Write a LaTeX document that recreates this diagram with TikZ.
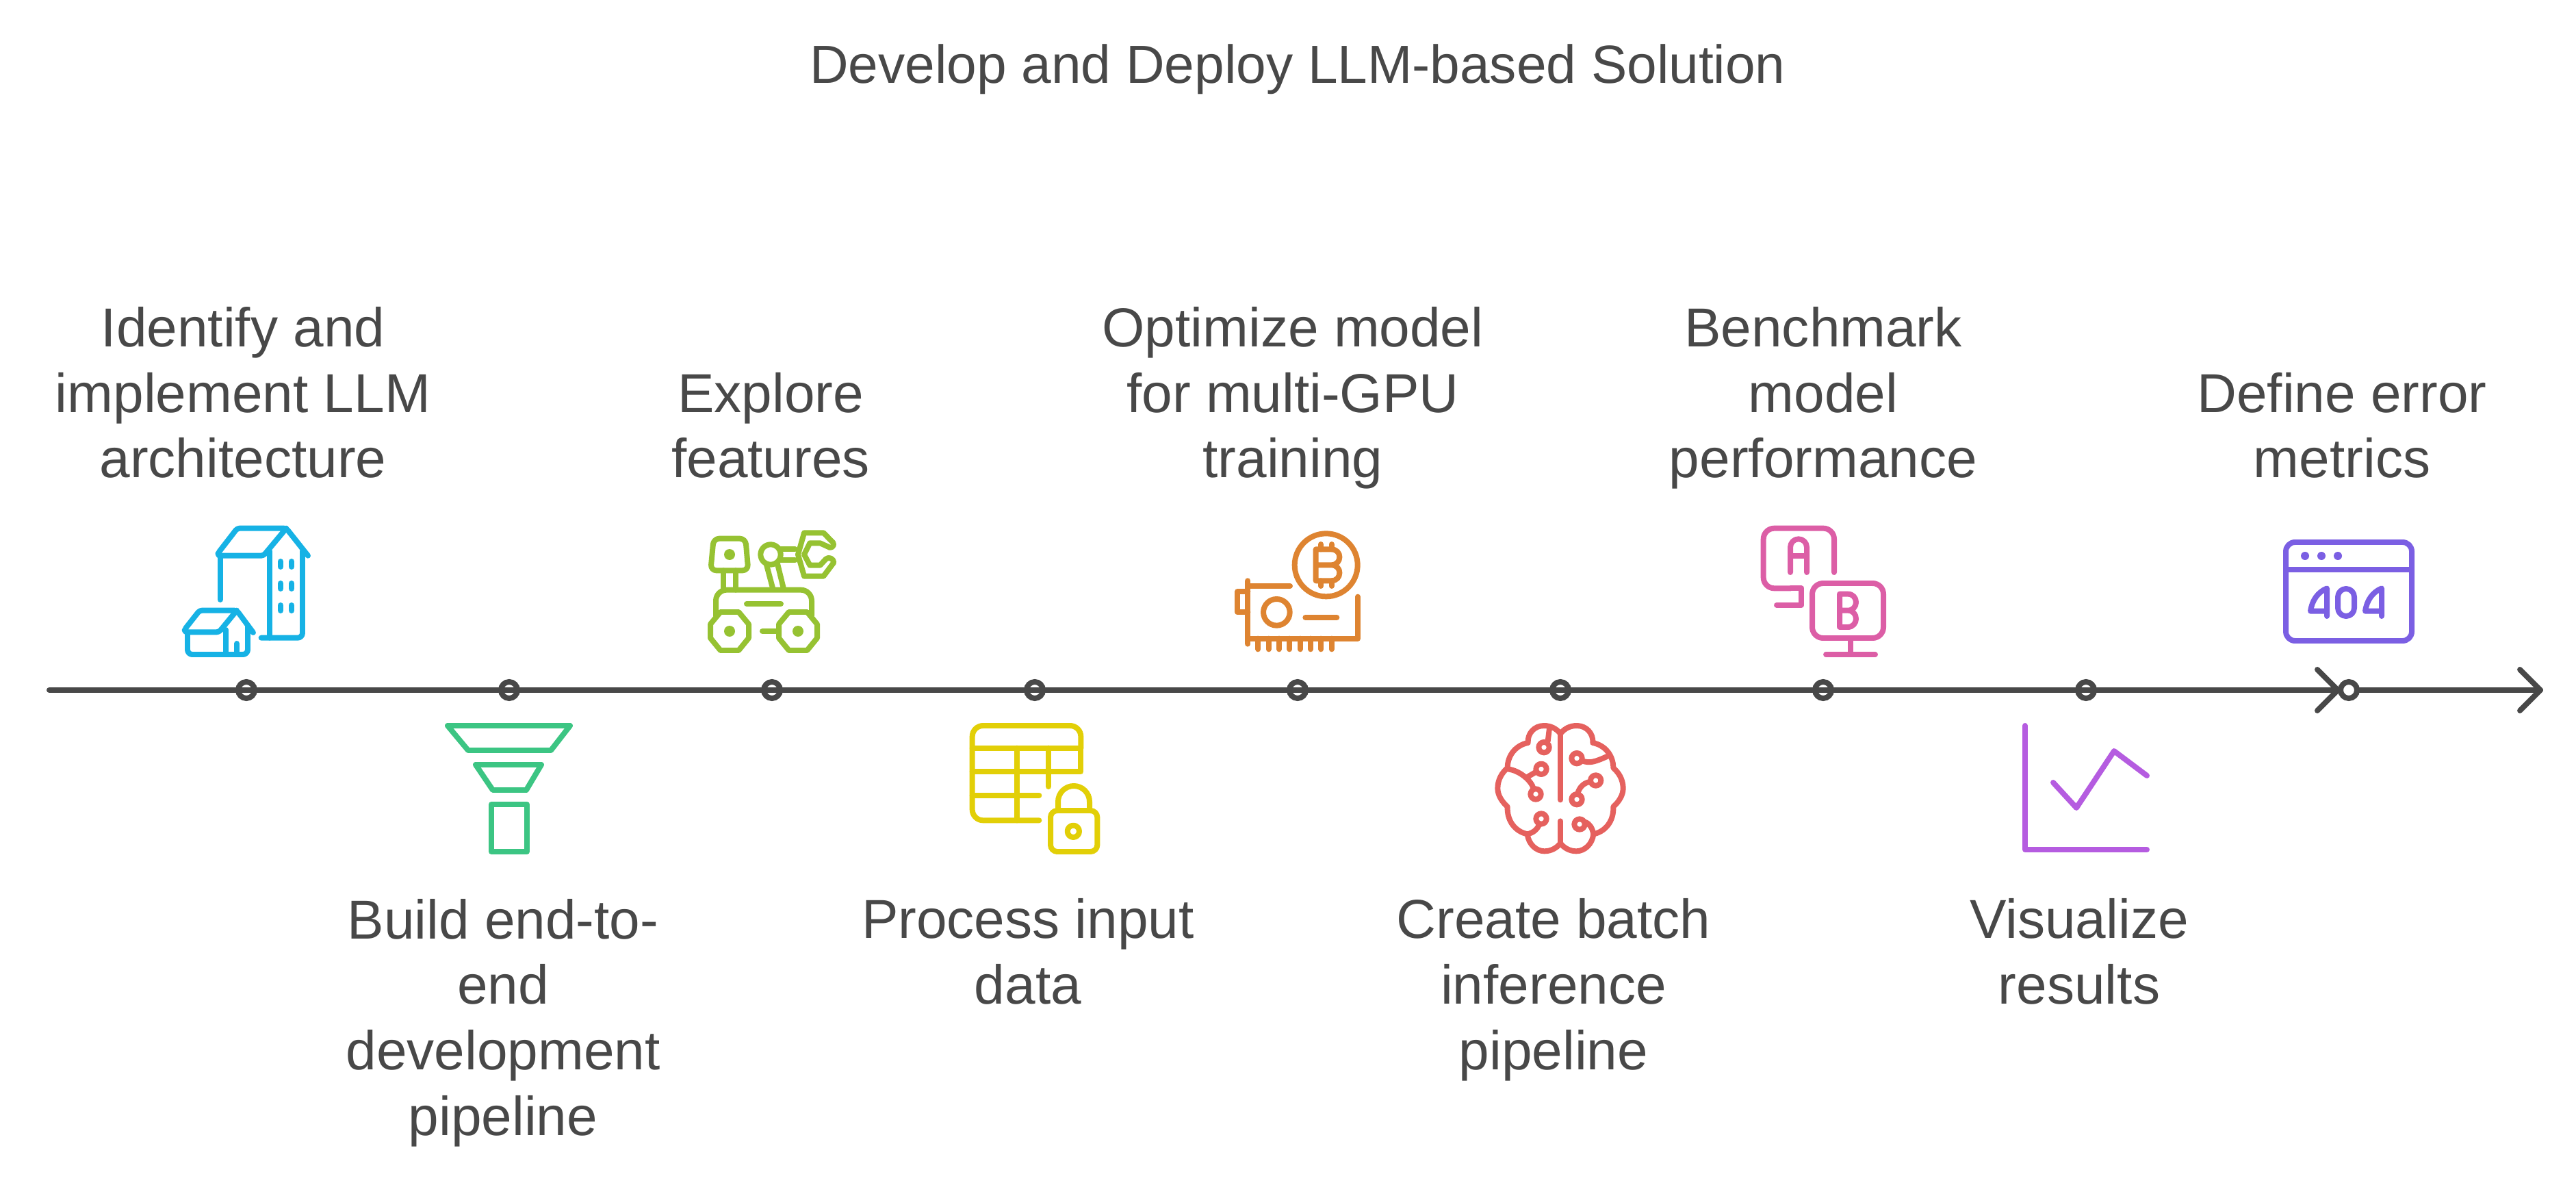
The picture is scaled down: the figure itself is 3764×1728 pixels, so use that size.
\documentclass[tikz,border=0pt]{standalone}
\usepackage{fontspec}
\setmainfont{Liberation Sans}
\definecolor{ink}{HTML}{484848}
\definecolor{cblue}{HTML}{16B2E5}
\definecolor{cgreen}{HTML}{3CC583}
\definecolor{clime}{HTML}{96C232}
\definecolor{cyellow}{HTML}{E2CF07}
\definecolor{corange}{HTML}{DE8431}
\definecolor{cred}{HTML}{E5615E}
\definecolor{cpink}{HTML}{DC5EA6}
\definecolor{cpurple}{HTML}{B55CE0}
\definecolor{cviolet}{HTML}{7B5FE3}
\tikzset{
 lbl/.style={align=center,text=ink,inner sep=0pt,anchor=base,font=\fontsize{22.8pt}{27.2pt}\selectfont},
 ttl/.style={text=ink,inner sep=0pt,anchor=base,font=\fontsize{22.3pt}{27.2pt}\selectfont},
 ico/.style={line width=2.27pt,line cap=round,line join=round},
 axisline/.style={draw=ink,line width=2.27pt,line cap=round,line join=round},
 tick/.style={circle,draw=ink,line width=2.27pt,minimum size=0.24cm,inner sep=0pt},
 endtick/.style={tick,fill=white},
 zoomed/.style={scale=1/3},
}
\begin{document}
\begin{tikzpicture}[x=0.01cm,y=-0.01cm]
\useasboundingbox (0,0) rectangle (3764,1728);
\node[ttl] (title) at (1896,122) {Develop and Deploy LLM-based Solution};
% axis
\coordinate (start) at (72,1008);
\coordinate (tipa) at (3416,1008);
\coordinate (tipb) at (3712,1008);
\draw[axisline] (start) -- (tipb);
\draw[axisline] (3386,978) -- (tipa) -- (3386,1038);
\draw[axisline] (3682,978) -- (tipb) -- (3682,1038);
\foreach \n/\x in {a/360,b/744,c/1128,d/1512,e/1896,f/2280,g/2664,h/3048}
  \node[tick] (t\n) at (\x,1008) {};
\node[endtick] (ti) at (3432,1008) {};
% labels
\node[lbl] (l1) at (355,698) {Identify and\\implement LLM\\architecture};
\node[lbl] (l2) at (735,1658) {Build end-to-\\end\\development\\pipeline};
\node[lbl] (l3) at (1126,698) {Explore\\features};
\node[lbl] (l4) at (1502,1466) {Process input\\data};
\node[lbl] (l5) at (1889,698) {Optimize model\\for multi-GPU\\training};
\node[lbl] (l6) at (2270,1562) {Create batch\\inference\\pipeline};
\node[lbl] (l7) at (2664,698) {Benchmark\\model\\performance};
\node[lbl] (l8) at (3038,1466) {Visualize\\results};
\node[lbl] (l9) at (3422,698) {Define error\\metrics};
% icon 1: buildings
\begin{scope}[shift={(240,750)},zoomed,draw=cblue,fill=cblue,ico]
\draw[rounded corners=1pt] (630,185) -- (535,65) -- (320,65) -- (235,175) -- (240,185) -- (435,185) -- (535,65);
\draw (245,185) -- (245,378);
\draw (462,165) -- (462,545);
\draw[rounded corners=2pt] (606,165) -- (606,545) -- (425,545);
\foreach \wx in {510,558} \foreach \wy in {210,306,402} \draw (\wx,\wy) -- (\wx,\wy+24);
\draw[rounded corners=1pt] (390,522) -- (318,425) -- (155,425) -- (88,510) -- (95,520) -- (240,520) -- (318,425);
\draw[rounded corners=2pt] (102,522) -- (102,618) -- (366,618) -- (366,490);
\draw (270,510) -- (270,618);
\draw (318,570) -- (318,618);
\end{scope}
% icon 2: funnel
\begin{scope}[draw=cgreen,ico]
\draw (654,1060) -- (833,1060) -- (805,1096) -- (684,1096) -- cycle;
\draw (695,1117) -- (791,1117) -- (769,1154) -- (720,1154) -- cycle;
\draw (718,1175) rectangle (770,1244);
\end{scope}
% icon 3: rover
\begin{scope}[shift={(1010,760)},zoomed,draw=clime,fill=clime,ico]
\draw[rounded corners=2.4pt] (98,80) -- (238,80) -- (250,220) -- (85,220) -- cycle;
\fill (168,150) circle (24);
\draw (142,220) -- (142,305) (195,220) -- (195,305);
\draw[rounded corners=4.5pt] (108,418) -- (108,305) -- (528,305) -- (528,418);
\draw (243,366) -- (393,366);
\foreach \wo in {0,300} {
 \draw (128+\wo,402) -- (208+\wo,402) -- (252+\wo,455) -- (252+\wo,516) -- (208+\wo,570) -- (128+\wo,570) -- (84+\wo,516) -- (84+\wo,455) -- cycle;
 \fill (168+\wo,486) circle (24);
}
\draw (312,486) -- (384,486);
\draw (348,150) circle (44);
\draw (330,195) -- (358,300) (378,190) -- (405,300);
\draw (390,126) -- (455,126) (390,175) -- (455,175);
\draw (495,55) -- (580,55) -- (622,98) .. controls (632,112) and (610,128) .. (598,115) -- (565,100) -- (520,100) -- (495,150) -- (520,197) -- (565,197) -- (590,170) .. controls (602,158) and (625,168) .. (625,185) -- (580,245) -- (495,245) -- (468,150) -- cycle;
\end{scope}
% icon 4: table and lock
\begin{scope}[shift={(1400,1040)},zoomed,draw=cyellow,ico]
\draw[rounded corners=4.5pt] (355,475) -- (62,475) -- (62,60) -- (538,60) -- (538,158);
\draw (538,158) -- (538,262) -- (62,262);
\draw (62,158) -- (538,158);
\draw (62,365) -- (355,365);
\draw (257,158) -- (257,475);
\draw (396,158) -- (396,327);
\draw[rounded corners=2.8pt] (405,432) rectangle (610,612);
\draw (438,432) -- (438,393) arc[start angle=180,end angle=360,radius=69] -- (576,432);
\draw (505,523) circle (26);
\end{scope}
% icon 5: GPU and coin
\begin{scope}[shift={(1780,760)},zoomed,draw=corange,ico]
\draw (130,265) -- (130,542);
\draw (130,288) -- (315,288);
\draw (130,312) -- (85,312) -- (85,403) -- (130,403);
\draw (256,403) circle (58);
\draw (382,426) -- (520,426);
\draw (612,335) -- (612,518) -- (130,518);
\foreach \px in {175,221,267,313,359,405,451,497} \draw (\px,518) -- (\px,565);
\draw (473,196) circle (138);
\draw (428,196) -- (495,196) .. controls (520,196) and (532,178) .. (532,161) .. controls (532,144) and (520,127) .. (495,127) -- (428,127) -- (428,265) -- (495,265) .. controls (520,265) and (532,248) .. (532,230) .. controls (532,213) and (520,196) .. (495,196);
\draw (450,105) -- (450,127) (497,105) -- (497,127) (450,265) -- (450,288) (497,265) -- (497,288);
\end{scope}
% icon 6: brain
\begin{scope}[shift={(2150,1040)},zoomed,draw=cred,ico]
\draw (390,95) .. controls (370,70) and (345,60) .. (318,60) .. controls (275,60) and (245,95) .. (248,135) .. controls (195,145) and (158,190) .. (158,245) .. controls (135,265) and (115,295) .. (115,335) .. controls (115,365) and (135,395) .. (158,415) .. controls (155,480) and (195,525) .. (245,535) .. controls (250,580) and (285,610) .. (320,610) .. controls (350,610) and (375,595) .. (390,575);
\draw (390,95) .. controls (410,70) and (435,60) .. (462,60) .. controls (505,60) and (535,95) .. (532,135) .. controls (585,145) and (622,190) .. (622,245) .. controls (645,265) and (665,295) .. (665,335) .. controls (665,365) and (645,395) .. (622,415) .. controls (625,480) and (585,525) .. (535,535) .. controls (530,580) and (495,610) .. (460,610) .. controls (430,610) and (405,595) .. (390,575);
\draw (390,100) -- (390,385);
\draw (390,478) -- (390,575);
\draw (318,155) circle (23);
\draw (342,70) -- (335,128);
\draw (306,250) circle (23);
\draw (282,360) circle (23);
\draw (158,250) .. controls (210,255) and (262,300) .. (272,335);
\draw (245,285) -- (284,262);
\draw (306,468) circle (23);
\draw (245,535) .. controls (270,530) and (290,515) .. (298,490);
\draw (462,203) circle (23);
\draw (488,215) .. controls (520,225) and (540,220) .. (605,190);
\draw (545,300) circle (23);
\draw (462,383) circle (23);
\draw (465,358) .. controls (475,325) and (495,310) .. (522,305);
\draw (474,492) circle (23);
\draw (498,482) .. controls (520,490) and (530,510) .. (535,535);
\end{scope}
% icon 7: A/B
\begin{scope}[shift={(2550,760)},zoomed,draw=cpink,ico]
\draw[rounded corners=4.5pt] (390,228) -- (390,35) -- (80,35) -- (80,298) -- (200,298);
\draw (200,298) -- (247,298) -- (247,372) -- (138,372);
\draw (198,228) -- (198,118) arc[start angle=180,end angle=360,radius=36] -- (270,228);
\draw (198,155) -- (270,155);
\draw[rounded corners=4.5pt] (294,276) rectangle (606,516);
\draw (462,516) -- (462,588);
\draw (354,588) -- (570,588);
\draw (450,395) .. controls (472,395) and (486,378) .. (486,359) .. controls (486,340) and (472,323) .. (450,323) -- (414,323) -- (414,468) -- (450,468) .. controls (472,468) and (486,450) .. (486,432) .. controls (486,412) and (472,395) .. (450,395) -- (414,395);
\end{scope}
% icon 8: chart
\begin{scope}[draw=cpurple,ico]
\draw (2959,1060) -- (2959,1241) -- (3137,1241);
\draw (3000,1143) -- (3034,1180) -- (3089,1097) -- (3137,1133);
\end{scope}
% icon 9: 404
\begin{scope}[shift={(3300,770)},zoomed,draw=cviolet,fill=cviolet,ico]
\draw[rounded corners=3.8pt] (120,66) rectangle (672,498);
\draw (120,186) -- (672,186);
\foreach \dx in {204,276,348} \fill (\dx,126) circle (18);
\foreach \fo in {0,240} \draw (300+\fo,390) -- (300+\fo,268) .. controls (260+\fo,285) and (235+\fo,320) .. (228+\fo,368) -- (300+\fo,368);
\draw[rounded corners=3.4pt] (348,270) rectangle (420,390);
\end{scope}
\end{tikzpicture}
\end{document}
